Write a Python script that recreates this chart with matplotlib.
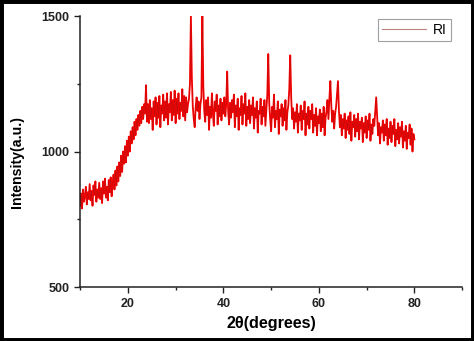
import numpy as np
import matplotlib
matplotlib.use("Agg")
import matplotlib.pyplot as plt
from matplotlib.patches import Rectangle
from matplotlib.ticker import MultipleLocator

plt.rcParams['font.family'] = ['Liberation Sans', 'DejaVu Sans']
plt.rcParams['font.weight'] = 'bold'

# XRD scan, 10-80 deg in 0.2 deg steps
two_theta_start = 10.0
two_theta_step = 0.2
intensity = [
    800, 845, 790, 860, 815, 835, 870, 805, 850, 825,
    880, 820, 855, 800, 875, 840, 890, 815, 860, 830,
    885, 825, 865, 810, 890, 845, 900, 830, 870, 820,
    895, 850, 905, 835, 880, 915, 860, 930, 875, 945,
    890, 960, 910, 985, 925, 1000, 955, 1020, 960, 1040,
    985, 1055, 1000, 1075, 1030, 1090, 1045, 1110, 1060, 1120,
    1080, 1135, 1095, 1150, 1105, 1165, 1120, 1175, 1140, 1245,
    1110, 1175, 1105, 1190, 1120, 1160, 1080, 1185, 1130, 1200,
    1100, 1180, 1125, 1205, 1090, 1170, 1140, 1210, 1115, 1185,
    1125, 1215, 1100, 1175, 1145, 1220, 1115, 1190, 1135, 1225,
    1105, 1195, 1140, 1215, 1120, 1180, 1150, 1230, 1130, 1205,
    1115, 1200, 1145, 1175, 1195, 1250, 1500, 1270, 1165, 1120,
    1090, 1165, 1200, 1150, 1185, 1120, 1175, 1200, 1500, 1240,
    1150, 1110, 1190, 1135, 1200, 1080, 1165, 1125, 1215, 1140,
    1095, 1185, 1150, 1210, 1100, 1170, 1130, 1195, 1115, 1180,
    1140, 1200, 1130, 1175, 1295, 1150, 1100, 1180, 1125, 1190,
    1145, 1210, 1090, 1170, 1130, 1195, 1080, 1160, 1135, 1205,
    1100, 1175, 1140, 1215, 1095, 1165, 1120, 1190, 1105, 1170,
    1135, 1200, 1085, 1160, 1125, 1185, 1070, 1150, 1140, 1195,
    1100, 1165, 1130, 1190, 1095, 1150, 1210, 1360, 1180, 1120,
    1075, 1165, 1125, 1210, 1090, 1150, 1120, 1185, 1065, 1155,
    1130, 1175, 1095, 1160, 1115, 1190, 1080, 1145, 1170, 1230,
    1355, 1200, 1120, 1160, 1085, 1145, 1110, 1175, 1070, 1140,
    1115, 1170, 1080, 1150, 1120, 1185, 1060, 1140, 1100, 1165,
    1085, 1150, 1120, 1175, 1070, 1135, 1095, 1160, 1060, 1130,
    1105, 1155, 1075, 1140, 1090, 1165, 1060, 1125, 1150, 1190,
    1120, 1195, 1260, 1170, 1110, 1150, 1085, 1140, 1165, 1210,
    1260, 1150, 1090, 1135, 1060, 1120, 1085, 1140, 1050, 1115,
    1080, 1130, 1065, 1145, 1040, 1110, 1090, 1135, 1055, 1120,
    1075, 1140, 1045, 1110, 1085, 1125, 1035, 1105, 1070, 1130,
    1050, 1115, 1080, 1140, 1040, 1100, 1065, 1120, 1095, 1150,
    1200, 1130, 1060, 1105, 1030, 1090, 1070, 1115, 1040, 1100,
    1060, 1120, 1025, 1085, 1050, 1110, 1035, 1095, 1065, 1120,
    1020, 1080, 1045, 1105, 1030, 1090, 1055, 1110, 1015, 1075,
    1040, 1095, 1010, 1070, 1050, 1100, 1025, 1085, 1000, 1065,
    1045,
]
two_theta = two_theta_start + two_theta_step * np.arange(len(intensity))

fig = plt.figure(figsize=(4.74, 3.41), dpi=100)
ax = fig.add_axes([0.169, 0.158, 0.806, 0.795])

ax.plot(two_theta, intensity, color='#ff0000', lw=1.3, label='RI')
ax.plot(two_theta, intensity, color='#8b1a1a', lw=0.35, alpha=0.6)

ax.set_xlim(10, 90)
ax.set_ylim(500, 1500)
ax.xaxis.set_major_locator(MultipleLocator(20))
ax.xaxis.set_minor_locator(MultipleLocator(10))
ax.yaxis.set_major_locator(MultipleLocator(500))
ax.yaxis.set_minor_locator(MultipleLocator(250))
ax.tick_params(which='major', length=4, width=1, labelsize=9, colors='#222222')
ax.tick_params(which='minor', length=2.5, width=1, colors='#222222')

for s in ['top', 'right']:
    ax.spines[s].set_visible(False)
for s in ['left', 'bottom']:
    ax.spines[s].set_linewidth(1.1)
    ax.spines[s].set_color('#222222')

ax.set_xlabel('2θ(degrees)', fontsize=11.6, fontweight='bold', labelpad=5)
ax.set_ylabel('Intensity(a.u.)', fontsize=10.2, fontweight='bold')
ax.yaxis.set_label_coords(-0.148, 0.46)

leg = ax.legend(loc='upper right', bbox_to_anchor=(0.99, 1.015),
                prop={'size': 10, 'weight': 'normal'},
                frameon=True, fancybox=False, handlelength=3.2, borderpad=0.3,
                handletextpad=0.5)
leg.get_frame().set_edgecolor('#888888')
leg.get_frame().set_linewidth(0.8)
leg.get_lines()[0].set_color('#c08080')
leg.get_lines()[0].set_linewidth(0.8)

# black frame around the whole picture
fig.patches.append(Rectangle((0, 0), 1, 1, transform=fig.transFigure,
                             fill=False, edgecolor='black', linewidth=5))

fig.savefig('out.png', dpi=100)
